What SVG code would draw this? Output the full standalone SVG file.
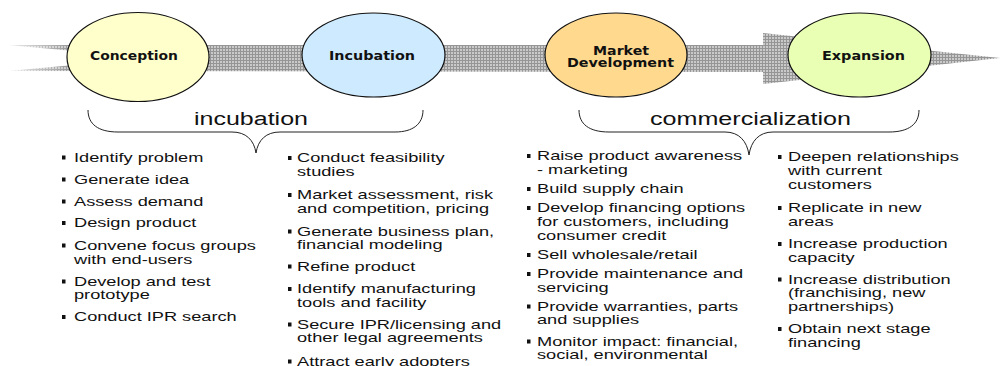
<svg xmlns="http://www.w3.org/2000/svg" width="1002" height="366" viewBox="0 0 1002 366">
  <style>
    .stage { stroke: #111; stroke-width: 1.2; }
    .stage-label { font-family: "DejaVu Sans", Verdana, sans-serif; font-weight: bold; font-size: 11.5px; fill: #111; text-anchor: middle; }
    .brace { fill: none; stroke: #222; stroke-width: 1; }
    .brace-label { font-family: "Liberation Sans", Arial, sans-serif; font-size: 18px; fill: #111; }
    .item { font-family: "Liberation Sans", Arial, sans-serif; font-size: 13px; fill: #111; }
    .bullet { fill: #111; }
  </style>
  <defs>
    <!-- fine cross-hatched mesh used for the timeline arrow -->
    <pattern id="mesh" width="3" height="3" patternUnits="userSpaceOnUse">
      <rect width="3" height="3" fill="#cacaca"/>
      <path d="M0,0.5H3M0.5,0V3" stroke="#959595" stroke-width="1"/>
    </pattern>
    <linearGradient id="tailFade" x1="0" y1="0" x2="72" y2="0" gradientUnits="userSpaceOnUse">
      <stop offset="0" stop-color="#fff" stop-opacity="0.95"/>
      <stop offset="1" stop-color="#fff" stop-opacity="0"/>
    </linearGradient>
  </defs>

  <rect width="1002" height="366" fill="#fff"/>

  <!-- timeline arrow linking the stages -->
  <g id="connectors">
    <path d="M8,45 L763,45 L763,33 L1000,58 L763,84 L763,72 L8,71 L150,58 Z" fill="url(#mesh)"/>
    <rect x="0" y="40" width="72" height="36" fill="url(#tailFade)"/>
  </g>

  <g id="stage-conception">
    <ellipse class="stage" cx="138" cy="57" rx="71" ry="44.5" fill="#ffffcc"/>
    <text class="stage-label" x="134" y="60" textLength="88" lengthAdjust="spacingAndGlyphs">Conception</text>
  </g>
  <g id="stage-incubation">
    <ellipse class="stage" cx="373.5" cy="55" rx="71.5" ry="42" fill="#cdeaff"/>
    <text class="stage-label" x="372" y="60" textLength="86" lengthAdjust="spacingAndGlyphs">Incubation</text>
  </g>
  <g id="stage-market-development">
    <ellipse class="stage" cx="616" cy="55" rx="71" ry="42" fill="#ffd98e"/>
    <text class="stage-label" x="621" y="55" textLength="56" lengthAdjust="spacingAndGlyphs">Market</text>
    <text class="stage-label" x="620.5" y="67" textLength="107" lengthAdjust="spacingAndGlyphs">Development</text>
  </g>
  <g id="stage-expansion">
    <ellipse class="stage" cx="859.5" cy="55" rx="71.5" ry="42" fill="#e9ffb3"/>
    <text class="stage-label" x="863.5" y="60" textLength="83" lengthAdjust="spacingAndGlyphs">Expansion</text>
  </g>

  <!-- phase braces -->
  <g id="brace-incubation">
    <path class="brace" d="M88,110 C88,124 98,132 118,132 L232,132 C246,132 254,140 256,153 C258,140 266,132 280,132 L395,132 C413,132 423,124 423,110"/>
    <text class="brace-label" x="194" y="125" textLength="114" lengthAdjust="spacingAndGlyphs">incubation</text>
  </g>
  <g id="brace-commercialization">
    <path class="brace" d="M579,110 C579,124 589,132 609,132 L725,132 C739,132 747,141 749,155 C751,141 759,132 773,132 L889,132 C909,132 919,124 919,110"/>
    <text class="brace-label" x="650" y="125" textLength="201" lengthAdjust="spacingAndGlyphs">commercialization</text>
  </g>

  <!-- activity lists -->
  <g id="list-conception">
    <g class="bullet">
      <rect x="62" y="155.5" width="3.5" height="4"/>
      <rect x="62" y="177.5" width="3.5" height="4"/>
      <rect x="62" y="199.5" width="3.5" height="4"/>
      <rect x="62" y="221" width="3.5" height="4"/>
      <rect x="62" y="243.5" width="3.5" height="4"/>
      <rect x="62" y="279.5" width="3.5" height="4"/>
      <rect x="62" y="315" width="3.5" height="4"/>
    </g>
    <g transform="translate(74,0) scale(1.4,1)">
      <text class="item" x="0" y="162">Identify problem</text>
      <text class="item" x="0" y="184">Generate idea</text>
      <text class="item" x="0" y="206">Assess demand</text>
      <text class="item" x="0" y="227.5">Design product</text>
      <text class="item" x="0" y="250">Convene focus groups</text>
      <text class="item" x="0" y="264">with end-users</text>
      <text class="item" x="0" y="286">Develop and test</text>
      <text class="item" x="0" y="299.5">prototype</text>
      <text class="item" x="0" y="321.5">Conduct IPR search</text>
    </g>
  </g>

  <g id="list-incubation">
    <g class="bullet">
      <rect x="288" y="156" width="3.5" height="4"/>
      <rect x="288" y="193" width="3.5" height="4"/>
      <rect x="288" y="229.5" width="3.5" height="4"/>
      <rect x="288" y="264.5" width="3.5" height="4"/>
      <rect x="288" y="287" width="3.5" height="4"/>
      <rect x="288" y="322.5" width="3.5" height="4"/>
      <rect x="288" y="359.5" width="3.5" height="4"/>
    </g>
    <g transform="translate(297,0) scale(1.4,1)">
      <text class="item" x="0" y="162.5">Conduct feasibility</text>
      <text class="item" x="0" y="176">studies</text>
      <text class="item" x="0" y="199.5">Market assessment, risk</text>
      <text class="item" x="0" y="213">and competition, pricing</text>
      <text class="item" x="0" y="236">Generate business plan,</text>
      <text class="item" x="0" y="249">financial modeling</text>
      <text class="item" x="0" y="271">Refine product</text>
      <text class="item" x="0" y="293.5">Identify manufacturing</text>
      <text class="item" x="0" y="307">tools and facility</text>
      <text class="item" x="0" y="329">Secure IPR/licensing and</text>
      <text class="item" x="0" y="342.5">other legal agreements</text>
      <text class="item" x="0" y="366">Attract early adopters</text>
    </g>
  </g>

  <g id="list-market-development">
    <g class="bullet">
      <rect x="527" y="154" width="3.5" height="4"/>
      <rect x="527" y="187" width="3.5" height="4"/>
      <rect x="527" y="206" width="3.5" height="4"/>
      <rect x="527" y="253" width="3.5" height="4"/>
      <rect x="527" y="272" width="3.5" height="4"/>
      <rect x="527" y="304.5" width="3.5" height="4"/>
      <rect x="527" y="339.5" width="3.5" height="4"/>
    </g>
    <g transform="translate(537,0) scale(1.4,1)">
      <text class="item" x="0" y="160.5">Raise product awareness</text>
      <text class="item" x="0" y="174.5">- marketing</text>
      <text class="item" x="0" y="193.5">Build supply chain</text>
      <text class="item" x="0" y="212.5">Develop financing options</text>
      <text class="item" x="0" y="226.5">for customers, including</text>
      <text class="item" x="0" y="240">consumer credit</text>
      <text class="item" x="0" y="259.5">Sell wholesale/retail</text>
      <text class="item" x="0" y="278.5">Provide maintenance and</text>
      <text class="item" x="0" y="292">servicing</text>
      <text class="item" x="0" y="311">Provide warranties, parts</text>
      <text class="item" x="0" y="324.5">and supplies</text>
      <text class="item" x="0" y="346">Monitor impact: financial,</text>
      <text class="item" x="0" y="359.5">social, environmental</text>
    </g>
  </g>

  <g id="list-expansion">
    <g class="bullet">
      <rect x="778" y="155" width="3.5" height="4"/>
      <rect x="778" y="206" width="3.5" height="4"/>
      <rect x="778" y="242" width="3.5" height="4"/>
      <rect x="778" y="277.5" width="3.5" height="4"/>
      <rect x="778" y="327" width="3.5" height="4"/>
    </g>
    <g transform="translate(788,0) scale(1.4,1)">
      <text class="item" x="0" y="161.5">Deepen relationships</text>
      <text class="item" x="0" y="175">with current</text>
      <text class="item" x="0" y="189">customers</text>
      <text class="item" x="0" y="212.5">Replicate in new</text>
      <text class="item" x="0" y="226">areas</text>
      <text class="item" x="0" y="248.5">Increase production</text>
      <text class="item" x="0" y="262">capacity</text>
      <text class="item" x="0" y="284">Increase distribution</text>
      <text class="item" x="0" y="297.5">(franchising, new</text>
      <text class="item" x="0" y="311">partnerships)</text>
      <text class="item" x="0" y="333.5">Obtain next stage</text>
      <text class="item" x="0" y="347">financing</text>
    </g>
  </g>
</svg>
